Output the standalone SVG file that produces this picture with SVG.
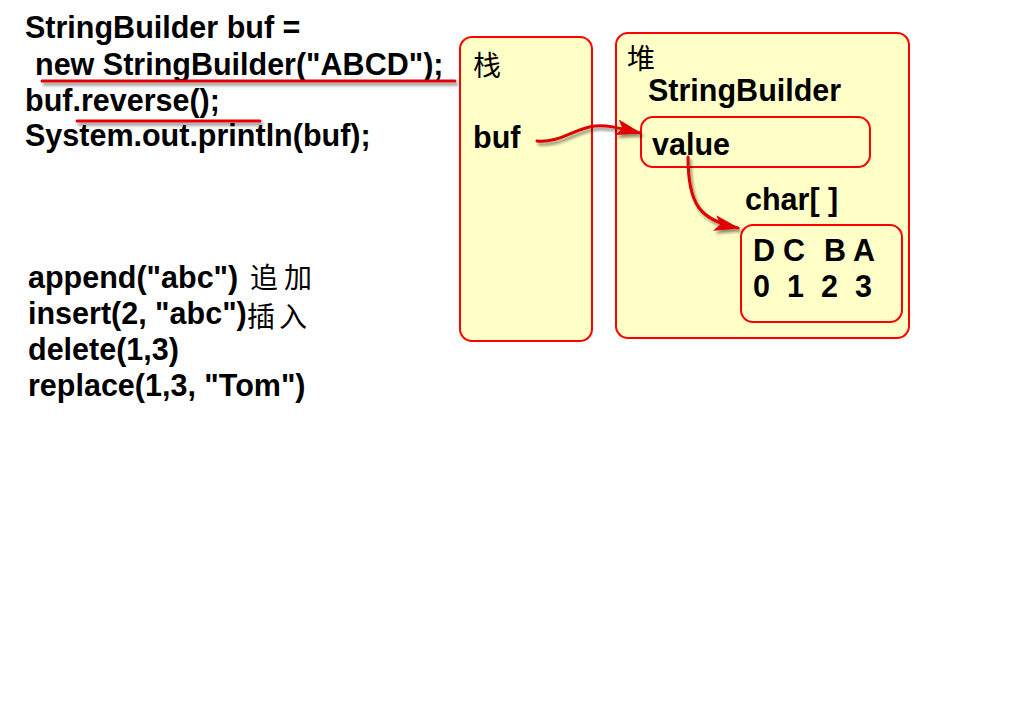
<svg xmlns="http://www.w3.org/2000/svg" width="1024" height="728" viewBox="0 0 1024 728">
<style>
.t{font-family:"Liberation Sans",Arial,sans-serif;font-weight:bold;font-size:30.5px;fill:#000}
.c{font-family:"Noto Sans CJK SC","Noto Sans CJK TC",sans-serif;font-weight:normal;fill:#000}
.box{fill:#FFFFC8;stroke:#FF0000;stroke-width:2}
.ul{stroke:#E80000;stroke-width:3;fill:none;stroke-linecap:round}
.arr{stroke:#E00000;stroke-width:3;fill:none;stroke-linecap:round}
</style>
<defs>
<filter id="sh" filterUnits="userSpaceOnUse" x="0" y="0" width="1024" height="728">
<feDropShadow dx="2" dy="3" stdDeviation="1.5" flood-color="#000" flood-opacity="0.45"/>
</filter>
<marker id="ah" viewBox="0 0 26 16" refX="24" refY="8" markerWidth="26" markerHeight="16" markerUnits="userSpaceOnUse" orient="auto">
<path d="M0,0 L26,8 L0,16 L6,8 Z" fill="#E00000"/>
</marker>
</defs>
<rect width="1024" height="728" fill="#FFFFFF"/>

<g id="code">
<text class="t" x="25" y="38">StringBuilder buf =</text>
<text class="t" x="35" y="75">new StringBuilder("ABCD");</text>
<text class="t" x="25" y="111">buf.reverse();</text>
<text class="t" x="25" y="146">System.out.println(buf);</text>
<line class="ul" x1="42" y1="81" x2="455" y2="81" filter="url(#sh)"/>
<line class="ul" x1="77" y1="121" x2="260" y2="121" filter="url(#sh)"/>
</g>

<g id="methods">
<text class="t" x="28" y="288">append("abc")</text>
<text class="c" x="250" y="288" font-size="28" letter-spacing="6">追加</text>
<text class="t" x="28" y="324">insert(2, "abc")</text>
<text class="c" x="247" y="327" font-size="28" letter-spacing="4">插入</text>
<text class="t" x="28" y="360">delete(1,3)</text>
<text class="t" x="28" y="396">replace(1,3, "Tom")</text>
</g>

<g id="stack">
<rect class="box" x="460" y="37" width="132" height="304" rx="12"/>
<text class="c" x="473" y="76" font-size="28">栈</text>
<text class="t" x="473" y="148">buf</text>
</g>

<g id="heap">
<rect class="box" x="616" y="33" width="293" height="305" rx="12"/>
<text class="c" x="627" y="69" font-size="28">堆</text>
<text class="t" x="648" y="101">StringBuilder</text>
</g>

<g id="value">
<rect class="box" x="641" y="117" width="229" height="50" rx="12"/>
<text class="t" x="652" y="155">value</text>
</g>

<g id="chararray">
<text class="t" x="745" y="210">char[ ]</text>
<rect class="box" x="741" y="225" width="161" height="97" rx="12"/>
<text class="t" x="753 783 824 853" y="261">DCBA</text>
<text class="t" x="753 787 821 855" y="297">0123</text>
</g>

<g id="connectors">
<path class="arr" d="M537,141 C560,143 575,128 595,126 C606,125 616,127 640,133" marker-end="url(#ah)" filter="url(#sh)"/>
<path class="arr" d="M688,157 C688,205 700,220 738,228" marker-end="url(#ah)" filter="url(#sh)"/>
</g>
</svg>
